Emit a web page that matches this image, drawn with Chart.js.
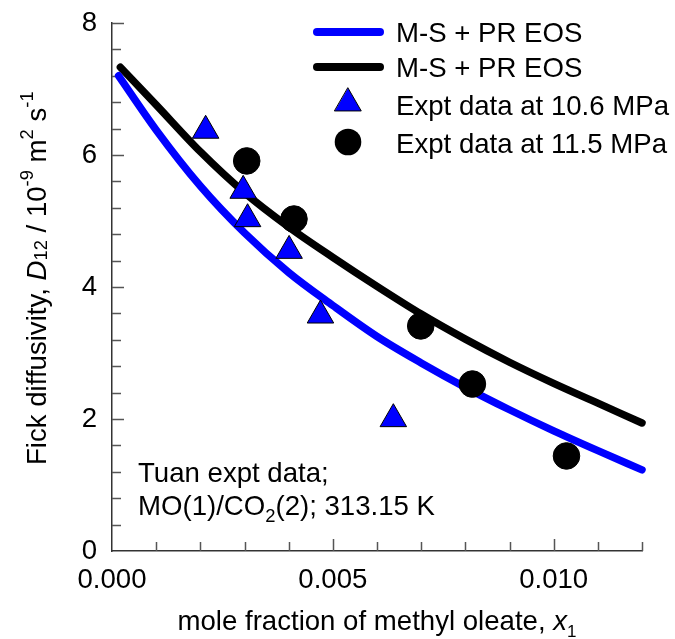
<!DOCTYPE html>
<html><head><meta charset="utf-8">
<script src="https://cdn.jsdelivr.net/npm/chart.js@4.4.1/dist/chart.umd.min.js"></script>
<style>html,body{margin:0;padding:0;background:#fff;}canvas{display:block;}</style>
</head><body>
<canvas id="c" width="675" height="639"></canvas>
<script>
const FONT = '"Liberation Sans", Arial, Helvetica, sans-serif';
const FS = 27.6, FSS = 18.4;
// model curves
const fitBlueX  = [0.00015,0.001,0.002,0.003,0.004,0.005,0.006,0.007,0.008,0.009,0.010,0.011,0.012];
const fitBlueY  = [7.20,6.38,5.53,4.82,4.22,3.72,3.25,2.85,2.48,2.14,1.82,1.52,1.23];
const fitBlackX = [0.00019,0.001,0.002,0.003,0.004,0.005,0.006,0.007,0.008,0.009,0.010,0.011,0.012];
const fitBlackY = [7.33,6.76,6.05,5.43,4.91,4.45,4.01,3.59,3.21,2.86,2.54,2.24,1.94];
// experimental points
const expt106X = [0.00212,0.00297,0.00307,0.00401,0.00472,0.00637];
const expt106Y = [6.37,5.46,5.03,4.55,3.57,2.00];
const expt115X = [0.00305,0.00412,0.00699,0.00816,0.01029];
const expt115Y = [5.91,5.03,3.41,2.53,1.44];
const legendLabels = ['M-S + PR EOS','M-S + PR EOS','Expt data at 10.6 MPa','Expt data at 11.5 MPa'];
const xRange = [0, 0.012];
const yRange = [0, 8];
const xLabelStep = 0.005, xMinorStep = 0.001;
const yLabelStep = 2, yMinorStep = 0.4;

const BLUE = '#0000ff', BLACK = '#000000';
const pts = (xs, ys) => xs.map((x, i) => ({x, y: ys[i]}));

function fontStr(size, italic) { return (italic ? 'italic ' : '') + size + 'px ' + FONT; }
function drawRich(ctx, segs, x, y, align) {
  let w = 0;
  segs.forEach(s => { ctx.font = fontStr(s.size, s.italic); w += ctx.measureText(s.t).width; });
  let cx = align === 'center' ? x - w / 2 : x;
  ctx.textBaseline = 'alphabetic'; ctx.textAlign = 'left'; ctx.fillStyle = '#000';
  segs.forEach(s => {
    ctx.font = fontStr(s.size, s.italic);
    ctx.fillText(s.t, cx, y + (s.dy || 0));
    cx += ctx.measureText(s.t).width;
  });
}

const decor = {
  id: 'decor',
  beforeDatasetsDraw(chart) {
    const ctx = chart.ctx, xs = chart.scales.x, ys = chart.scales.y;
    const a = chart.chartArea;
    ctx.save();
    ctx.strokeStyle = '#555'; ctx.lineWidth = 1.5;
    ctx.beginPath();
    for (let i = 1; i <= Math.round((xRange[1] - xRange[0]) / xMinorStep); i++) {
      const v = xRange[0] + i * xMinorStep;
      const px = Math.round(xs.getPixelForValue(v)) + 0.5;
      const major = (i % Math.round(xLabelStep / xMinorStep)) === 0;
      ctx.moveTo(px, a.bottom); ctx.lineTo(px, a.bottom - (major ? 12 : 9));
    }
    for (let i = 1; i <= Math.round((yRange[1] - yRange[0]) / yMinorStep); i++) {
      const v = yRange[0] + i * yMinorStep;
      const py = Math.round(ys.getPixelForValue(v)) + 0.5;
      const major = (i % Math.round(yLabelStep / yMinorStep)) === 0;
      ctx.moveTo(a.left, py); ctx.lineTo(a.left + (major ? 12 : 9), py);
    }
    ctx.stroke();
    ctx.restore();
  },
  afterDraw(chart) {
    const ctx = chart.ctx, a = chart.chartArea;
    ctx.save();
    // y axis title
    ctx.save();
    ctx.translate(46, 465);
    ctx.rotate(-Math.PI / 2);
    drawRich(ctx, [
      {t: 'Fick diffusivity, ', size: FS},
      {t: 'D', size: FS, italic: true},
      {t: '12', size: FSS, dy: 1},
      {t: ' / 10', size: FS},
      {t: '-9', size: FSS, dy: -13},
      {t: ' m', size: FS},
      {t: '2', size: FSS, dy: -13},
      {t: ' s', size: FS},
      {t: '-1', size: FSS, dy: -13}
    ], 0, 0, 'left');
    ctx.restore();
    // x axis title
    drawRich(ctx, [
      {t: 'mole fraction of methyl oleate, ', size: FS},
      {t: 'x', size: FS, italic: true},
      {t: '1', size: 17, dy: 7}
    ], (a.left + a.right) / 2, 630, 'center');
    // annotation
    drawRich(ctx, [{t: 'Tuan expt data;', size: FS}], 138, 482, 'left');
    drawRich(ctx, [
      {t: 'MO(1)/CO', size: FS},
      {t: '2', size: FSS, dy: 7},
      {t: '(2); 313.15 K', size: FS}
    ], 138, 515, 'left');
    // legend
    ctx.lineCap = 'round';
    ctx.lineWidth = 8;
    ctx.strokeStyle = BLUE;
    ctx.beginPath(); ctx.moveTo(317, 32); ctx.lineTo(380, 32); ctx.stroke();
    ctx.strokeStyle = BLACK;
    ctx.beginPath(); ctx.moveTo(317, 67); ctx.lineTo(380, 67); ctx.stroke();
    const r = 15.3, cx = 348, cy = 103.3;
    ctx.beginPath();
    ctx.moveTo(cx, cy - r);
    ctx.lineTo(cx + r * Math.sin(2 * Math.PI / 3), cy - r * Math.cos(2 * Math.PI / 3));
    ctx.lineTo(cx + r * Math.sin(4 * Math.PI / 3), cy - r * Math.cos(4 * Math.PI / 3));
    ctx.closePath();
    ctx.fillStyle = BLUE; ctx.fill();
    ctx.lineWidth = 1; ctx.strokeStyle = '#000'; ctx.stroke();
    ctx.beginPath(); ctx.arc(348, 142, 13.3, 0, Math.PI * 2);
    ctx.fillStyle = BLACK; ctx.fill();
    const ly = [41.7, 76.7, 115, 153.3];
    legendLabels.forEach((t, i) => drawRich(ctx, [{t, size: FS}], 396, ly[i], 'left'));
    ctx.restore();
  }
};

new Chart(document.getElementById('c'), {
  type: 'scatter',
  data: {
    datasets: [
      {label: legendLabels[2], data: pts(expt106X, expt106Y), pointStyle: 'triangle', pointRadius: 15.3,
       backgroundColor: BLUE, borderColor: '#000', borderWidth: 1, order: 1},
      {label: legendLabels[3], data: pts(expt115X, expt115Y), pointStyle: 'circle', pointRadius: 13.3,
       backgroundColor: BLACK, borderColor: BLACK, borderWidth: 1, order: 1},
      {label: legendLabels[0], data: pts(fitBlueX, fitBlueY), showLine: true, pointRadius: 0,
       borderColor: BLUE, backgroundColor: BLUE, borderWidth: 7.5, borderCapStyle: 'round', borderJoinStyle: 'round',
       cubicInterpolationMode: 'monotone', fill: false, clip: false, order: 2},
      {label: legendLabels[1], data: pts(fitBlackX, fitBlackY), showLine: true, pointRadius: 0,
       borderColor: BLACK, backgroundColor: BLACK, borderWidth: 7.5, borderCapStyle: 'round', borderJoinStyle: 'round',
       cubicInterpolationMode: 'monotone', fill: false, clip: false, order: 2}
    ]
  },
  options: {
    responsive: false, animation: false, events: [],
    layout: {padding: {left: 0, top: 23, right: 33, bottom: 0}},
    plugins: {legend: {display: false}, tooltip: {enabled: false}},
    scales: {
      x: {
        type: 'linear', min: xRange[0], max: xRange[1],
        afterFit: s => { s.height = 88; s.paddingLeft = 0; s.paddingRight = 0; },
        grid: {display: false, drawTicks: false},
        border: {display: true, color: '#333', width: 1.5},
        ticks: {stepSize: xLabelStep, includeBounds: false, padding: 13, color: '#000', autoSkip: false, maxRotation: 0,
                font: {family: FONT, size: FS}, callback: v => Number(v).toFixed(3)}
      },
      y: {
        type: 'linear', min: yRange[0], max: yRange[1],
        afterFit: s => { s.width = 112; s.paddingTop = 0; s.paddingBottom = 0; },
        grid: {display: false, drawTicks: false},
        border: {display: true, color: '#333', width: 1.5},
        ticks: {stepSize: yLabelStep, padding: 15, color: '#000', font: {family: FONT, size: FS}}
      }
    }
  },
  plugins: [decor]
});
</script>
</body></html>
